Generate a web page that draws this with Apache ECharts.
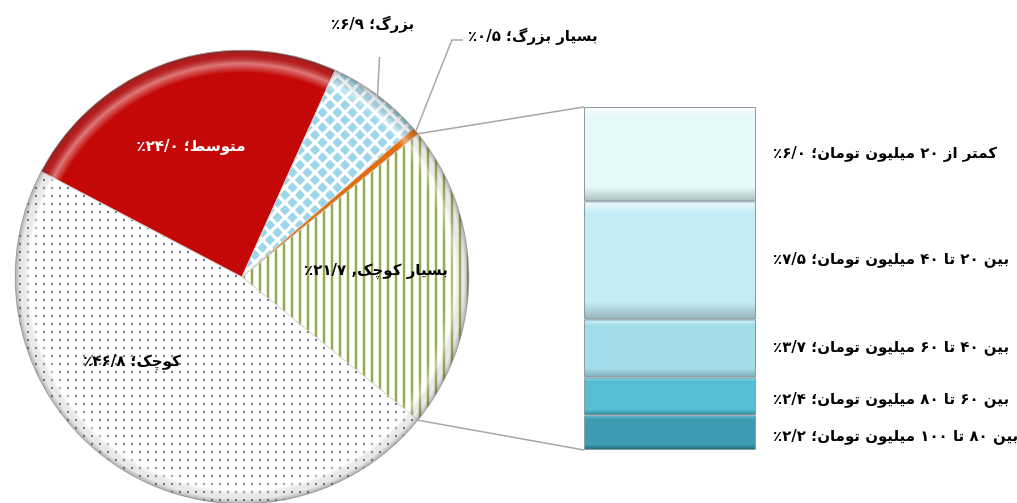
<!DOCTYPE html>
<html>
<head>
<meta charset="utf-8">
<script src="https://cdn.jsdelivr.net/npm/echarts@6/dist/echarts.min.js"></script>
<style>
  html, body { margin: 0; padding: 0; background: #fff; }
  #main { width: 1017px; height: 503px; }
</style>
</head>
<body>
<div id="main"></div>
<script>
// pie: share of firms by size
const pieNames = ['بسیار کوچک', 'کوچک', 'متوسط', 'بزرگ', 'بسیار بزرگ'];
const pieValues = [21.7, 46.8, 24.0, 6.9, 0.5];
const pieSeps = [', ', '؛ ', '؛ ', '؛ ', '؛ '];

// bar: breakdown of the "very small" slice (top to bottom)
const barNames = [
  'کمتر از ۲۰ میلیون تومان',
  'بین ۲۰ تا ۴۰ میلیون تومان',
  'بین ۴۰ تا ۶۰ میلیون تومان',
  'بین ۶۰ تا ۸۰ میلیون تومان',
  'بین ۸۰ تا ۱۰۰ میلیون تومان'
];
const barValues = [6.0, 7.5, 3.7, 2.4, 2.2];

const FONT = 'DejaVu Sans';
const FONT_SIZE = 15;
const PIE_CX = 242, PIE_CY = 277, PIE_R = 227;
const GRID = { left: 584, top: 107, width: 172, height: 343 };

function fa(v) {
  return v.toFixed(1).replace('.', '/').replace(/\d/g, d => '۰۱۲۳۴۵۶۷۸۹'[d]);
}
function rtl(s) { return '\u200F' + s + '\u200F'; }

// pattern tiles
function tile(w, h, draw) {
  const c = document.createElement('canvas');
  c.width = w; c.height = h;
  const ctx = c.getContext('2d');
  ctx.fillStyle = '#fff';
  ctx.fillRect(0, 0, w, h);
  draw(ctx);
  return { image: c, repeat: 'repeat' };
}
const stripes = tile(8, 8, ctx => {
  ctx.fillStyle = '#e4ecc8';
  ctx.fillRect(2, 0, 4, 8);
  ctx.fillStyle = '#93a955';
  ctx.fillRect(3, 0, 2, 8);
});
const dots = tile(8, 8, ctx => {
  ctx.fillStyle = '#7a7592';
  ctx.beginPath();
  ctx.arc(4, 4, 1.2, 0, Math.PI * 2);
  ctx.fill();
});
const diamonds = tile(15, 15, ctx => {
  ctx.fillStyle = '#9dd6ea';
  const h = 5.2;
  const d = (x, y) => {
    ctx.beginPath();
    ctx.moveTo(x, y - h); ctx.lineTo(x + h, y); ctx.lineTo(x, y + h); ctx.lineTo(x - h, y);
    ctx.closePath(); ctx.fill();
  };
  d(7.5, 7.5); d(0, 0); d(15, 0); d(0, 15); d(15, 15);
});
const pieFills = [stripes, dots, '#c40808', diamonds, '#e46c0a'];
const barColors = ['#e5f8fc', '#c4ecf4', '#a3dce9', '#56bdd5', '#3d9cb2'];
const barHi = ['#ffffff', '#ecfbfe', '#d4f2f9', '#86dcf0', '#5fc3da'];
const barLo = ['#a9bcc0', '#93b3ba', '#7ca5b0', '#2e7f92', '#1f5f6e'];

const pieTotal = pieValues.reduce((a, b) => a + b, 0);
const barTotal = barValues.reduce((a, b) => a + b, 0);
const startAngle = pieValues[0] / pieTotal * 180;

// mid angle of each slice (degrees, counter-clockwise from 3 o'clock)
const midAngles = [];
let acc = startAngle;
pieValues.forEach(v => {
  const span = v / pieTotal * 360;
  midAngles.push(acc - span / 2);
  acc -= span;
});
function edgePoint(deg) {
  const a = deg * Math.PI / 180;
  return [PIE_CX + PIE_R * Math.cos(a), PIE_CY - PIE_R * Math.sin(a)];
}
// label centres of the inside labels, relative to the pie centre
const insidePos = { 0: [134, -6], 1: [-110, 85], 2: [-51, -130] };

const chart = echarts.init(document.getElementById('main'));

const barSeries = [];
for (let i = barValues.length - 1; i >= 0; i--) {
  barSeries.push({
    type: 'bar',
    name: barNames[i],
    stack: 'sub',
    barWidth: '100%',
    data: [barValues[i]],
    itemStyle: {
      color: {
        type: 'linear', x: 0, y: 0, x2: 0, y2: 1,
        colorStops: [
          { offset: 0, color: barHi[i] },
          { offset: 0.1, color: barColors[i] },
          { offset: 0.85, color: barColors[i] },
          { offset: 1, color: barLo[i] }
        ]
      },
      borderColor: '#8a9ea3',
      borderWidth: 1
    },
    label: {
      show: true,
      position: 'right',
      distance: 17,
      offset: i >= 3 ? [0, 4] : [0, 0],
      color: '#000',
      fontFamily: FONT,
      fontWeight: 'bold',
      fontSize: FONT_SIZE,
      formatter: p => rtl(p.seriesName + '؛ ' + fa(p.value) + '٪')
    },
    emphasis: { disabled: true }
  });
}

chart.setOption({
  animation: false,
  grid: GRID,
  xAxis: { type: 'category', data: ['x'], show: false },
  yAxis: { type: 'value', min: 0, max: barTotal, show: false },
  series: [
    {
      type: 'pie',
      center: [PIE_CX, PIE_CY],
      radius: PIE_R,
      startAngle: startAngle,
      clockwise: true,
      avoidLabelOverlap: false,
      emphasis: { disabled: true },
      itemStyle: { borderColor: '#d2d2d2', borderWidth: 1 },
      label: {
        show: true,
        position: 'inside',
        color: '#000',
        fontFamily: FONT,
        fontWeight: 'bold',
        fontSize: FONT_SIZE,
        formatter: p => rtl(p.name + pieSeps[p.dataIndex] + fa(p.value) + '٪')
      },
      labelLine: { show: false, lineStyle: { color: '#a6a6a6', width: 1.5 } },
      labelLayout: function (p) {
        const i = p.dataIndex;
        if (insidePos[i]) {
          return {
            x: PIE_CX + insidePos[i][0], y: PIE_CY + insidePos[i][1],
            align: 'center', verticalAlign: 'middle'
          };
        }
        const a = edgePoint(midAngles[i]);
        if (i === 3) {
          return {
            x: a[0] - 5, y: a[1] - 70, align: 'center', verticalAlign: 'middle',
            labelLinePoints: [a, [a[0] + 1, a[1] - 20], [a[0] + 2, a[1] - 38]]
          };
        }
        return {
          x: a[0] + 52, y: a[1] - 94, align: 'left', verticalAlign: 'middle',
          labelLinePoints: [a, [a[0] + 36, a[1] - 91], [a[0] + 47, a[1] - 91]]
        };
      },
      data: pieNames.map((n, i) => ({
        name: n,
        value: pieValues[i],
        itemStyle: { color: pieFills[i] },
        label: i === 2 ? { color: '#fff' } : (i >= 3 ? { position: 'outside' } : {}),
        labelLine: i >= 3 ? { show: true } : { show: false }
      }))
    }
  ].concat(barSeries)
});

// series lines from the split slice to the bar, and the pie edge shading
const topEdge = edgePoint(startAngle);
const botEdge = edgePoint(-startAngle);
const yTop = chart.convertToPixel({ gridIndex: 0 }, ['x', barTotal])[1];
const yBot = chart.convertToPixel({ gridIndex: 0 }, ['x', 0])[1];
chart.setOption({
  graphic: [
    {
      type: 'circle', silent: true, z: 3,
      shape: { cx: PIE_CX, cy: PIE_CY, r: PIE_R },
      style: {
        fill: {
          type: 'radial', x: 0.5, y: 0.5, r: 0.5,
          colorStops: [
            { offset: 0, color: 'rgba(255,255,255,0)' },
            { offset: 0.9, color: 'rgba(255,255,255,0)' },
            { offset: 0.94, color: 'rgba(255,255,255,0.45)' },
            { offset: 0.975, color: 'rgba(120,120,120,0.15)' },
            { offset: 1, color: 'rgba(60,60,60,0.45)' }
          ]
        }
      }
    },
    {
      type: 'line', silent: true, z: 4,
      shape: { x1: topEdge[0], y1: topEdge[1], x2: GRID.left, y2: yTop },
      style: { stroke: '#a6a6a6', lineWidth: 1.5 }
    },
    {
      type: 'line', silent: true, z: 4,
      shape: { x1: botEdge[0], y1: botEdge[1], x2: GRID.left, y2: yBot },
      style: { stroke: '#a6a6a6', lineWidth: 1.5 }
    }
  ]
});
</script>
</body>
</html>
